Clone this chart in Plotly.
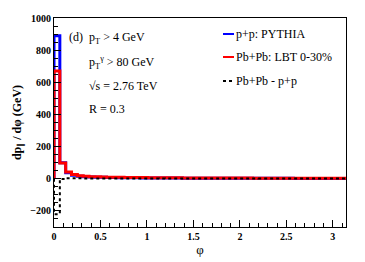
import numpy as np
import plotly.graph_objects as go

n_bins = 50
phi_max = np.pi
pp_pythia = [890, 100, 38, 22, 16, 13, 11, 10, 9, 8, 7.5, 7, 6.5, 6, 5.8, 5.5, 5.2, 5, 4.8, 4.6,
             4.4, 4.2, 4.0, 3.9, 3.8, 3.7, 3.6, 3.5, 3.4, 3.3, 3.2, 3.1, 3.0, 2.9, 2.8, 2.8, 2.7,
             2.6, 2.6, 2.5, 2.5, 2.4, 2.4, 2.3, 2.3, 2.2, 2.2, 2.1, 2.1, 2.0]
pbpb_lbt = [670, 98, 42, 26, 19, 15, 13, 12, 11, 10, 9.5, 9, 8.5, 8, 7.6, 7.2, 6.9, 6.6, 6.3, 6.0,
            5.8, 5.6, 5.4, 5.2, 5.0, 4.9, 4.8, 4.7, 4.6, 4.5, 4.4, 4.3, 4.2, 4.1, 4.0, 3.9, 3.8,
            3.7, 3.7, 3.6, 3.5, 3.5, 3.4, 3.4, 3.3, 3.3, 3.2, 3.2, 3.1, 3.1]
diff = [a - b for a, b in zip(pbpb_lbt, pp_pythia)]
legend_labels = ["p+p: PYTHIA", "Pb+Pb: LBT 0-30%", "Pb+Pb - p+p"]

edges = np.linspace(0, phi_max, n_bins + 1)
xs = [0.0] + list(edges)
def stepy(v):
    return [0.0] + list(v) + [v[-1]]

FONT = "Times New Roman"
OFF = 8  # page body margin
W, H = 365 - OFF, 262 - OFF
L, R, T, B = 54 - OFF, 19, 18 - OFF, 35
PW, PH = W - L - R, H - T - B
def px(x):
    return (x - OFF - L) / PW
def py(y):
    return 1 - (y - OFF - T) / PH

fig = go.Figure()
fig.add_trace(go.Scatter(x=xs, y=stepy(pp_pythia), mode="lines", line=dict(color="#0000ff", width=3, shape="hv"), showlegend=False))
fig.add_trace(go.Scatter(x=xs, y=stepy(pbpb_lbt), mode="lines", line=dict(color="#ff0000", width=3, shape="hv"), showlegend=False))
fig.add_trace(go.Scatter(x=xs, y=stepy(diff), mode="lines", line=dict(color="black", width=2, shape="hv", dash="dot"), showlegend=False))

fig.update_layout(
    width=W, height=H,
    margin=dict(l=L, r=R, t=T, b=B, autoexpand=False),
    paper_bgcolor="white", plot_bgcolor="white",
    font=dict(family=FONT, color="black"),
    showlegend=False,
)
fig.update_xaxes(range=[0, phi_max], showgrid=False, zeroline=False, automargin=False,
                 showline=True, linecolor="black", linewidth=1, mirror=True,
                 ticks="inside", ticklen=7, tickcolor="black", dtick=0.5, tick0=0,
                 minor=dict(ticks="inside", ticklen=4, dtick=0.1, tickcolor="black"),
                 tickfont=dict(family=FONT, size=10, weight="bold"),
                 title=dict(text="φ", font=dict(family=FONT, size=13), standoff=2))
fig.update_yaxes(range=[-300, 1000], showgrid=False, zeroline=False, automargin=False,
                 showline=True, linecolor="black", linewidth=1, mirror=True,
                 ticks="inside", ticklen=7, tickcolor="black", dtick=200, tick0=0,
                 minor=dict(ticks="inside", ticklen=4, dtick=50, tickcolor="black"),
                 tickfont=dict(family=FONT, size=10, weight="bold"),
                 title=dict(text="<b>dp<sub>∥</sub> / dφ (GeV)</b>", font=dict(family=FONT, size=12), standoff=6))

texts = [
    (67, 38, "(d)  p<sub>T</sub> > 4 GeV"),
    (87, 62, "p<sub>T</sub><sup>γ</sup> > 80 GeV"),
    (87, 86, "√s = 2.76 TeV"),
    (87, 109, "R = 0.3"),
]
for x, y, t in texts:
    fig.add_annotation(xref="paper", yref="paper", x=px(x), y=py(y), text=t,
                       showarrow=False, xanchor="left", yanchor="middle",
                       font=dict(family=FONT, size=12, color="black"))

leg_y = [34, 57, 81]
leg_style = [dict(color="#0000ff", width=2), dict(color="#ff0000", width=2), dict(color="black", width=2, dash="dot")]
for y, lab, st in zip(leg_y, legend_labels, leg_style):
    fig.add_shape(type="line", xref="paper", yref="paper", x0=px(223), x1=px(234), y0=py(y), y1=py(y), line=st)
    fig.add_annotation(xref="paper", yref="paper", x=px(234), y=py(y), text=lab,
                       showarrow=False, xanchor="left", yanchor="middle",
                       font=dict(family=FONT, size=12, color="black"))

fig.write_html("out.html")
